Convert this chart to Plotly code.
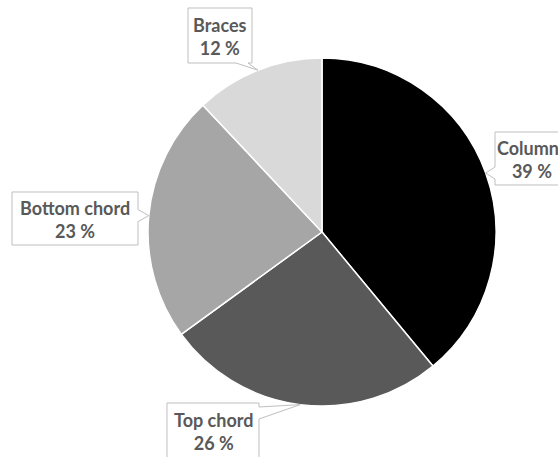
import math
import plotly.graph_objects as go

# ---- data ----
categories = ["Columns", "Top chord", "Bottom chord", "Braces"]
values = [39, 26, 23, 12]
colors = ["#000000", "#595959", "#a6a6a6", "#d9d9d9"]
pct_labels = ["39 %", "26 %", "23 %", "12 %"]

# ---- layout constants (pixels) ----
W, H = 558, 457
CX, CY, R = 322, 232, 174
# callout boxes: (left, top, width, height, side facing the slice)
boxes = {
    "Columns": (495, 132, 74, 53, "left"),
    "Top chord": (167, 403, 92, 55, "right"),
    "Bottom chord": (12, 192, 126, 53, "right"),
    "Braces": (188, 8, 64, 55, "bottom"),
}
TEXT_COLOR = "#595959"
BORDER = "#bfbfbf"
FONT = "Lato"
FONT_SIZE = 18

def px(x):
    return x / W

def py(y):
    return 1 - y / H

fig = go.Figure(go.Pie(
    labels=categories,
    values=values,
    sort=False,
    direction="clockwise",
    rotation=0,
    marker=dict(colors=colors, line=dict(color="white", width=1.5)),
    textinfo="none",
    hoverinfo="label+percent",
    showlegend=False,
    domain=dict(x=[px(CX - R), px(CX + R)], y=[py(CY + R), py(CY - R)]),
))

shapes = []
annotations = []
total = sum(values)
cum = 0
for cat, v, pl in zip(categories, values, pct_labels):
    mid = (cum + v / 2) / total * 2 * math.pi
    cum += v
    tx = CX + R * math.sin(mid)
    ty = CY - R * math.cos(mid)
    left, top, w, h, side = boxes[cat]
    right, bottom = left + w, top + h
    m, hw = 10, 6
    pts = [(left, top)]
    if side == "top":
        c = min(max(tx, left + m), right - m)
        pts += [(c - hw, top), (tx, ty), (c + hw, top)]
    pts.append((right, top))
    if side == "right":
        c = min(max(ty, top + m), bottom - m)
        pts += [(right, c - hw), (tx, ty), (right, c + hw)]
    pts.append((right, bottom))
    if side == "bottom":
        c = min(max(tx, left + m), right - m)
        pts += [(c + hw, bottom), (tx, ty), (c - hw, bottom)]
    pts.append((left, bottom))
    if side == "left":
        c = min(max(ty, top + m), bottom - m)
        pts += [(left, c + hw), (tx, ty), (left, c - hw)]
    path = "M " + " L ".join(f"{px(x):.5f},{py(y):.5f}" for x, y in pts) + " Z"
    shapes.append(dict(type="path", path=path, xref="paper", yref="paper",
                       fillcolor="white", line=dict(color=BORDER, width=1),
                       layer="above"))
    annotations.append(dict(
        x=px(left + w / 2), y=py(top + h / 2 + 1), xref="paper", yref="paper",
        xanchor="center", yanchor="middle", showarrow=False,
        text=f"<b>{cat}</b><br><b>{pl}</b>",
        font=dict(family=FONT, size=FONT_SIZE, color=TEXT_COLOR),
        align="center",
    ))

fig.update_layout(
    width=W, height=H,
    margin=dict(l=0, r=0, t=0, b=0),
    paper_bgcolor="white",
    plot_bgcolor="white",
    shapes=shapes,
    annotations=annotations,
)

fig.write_html("out.html")
